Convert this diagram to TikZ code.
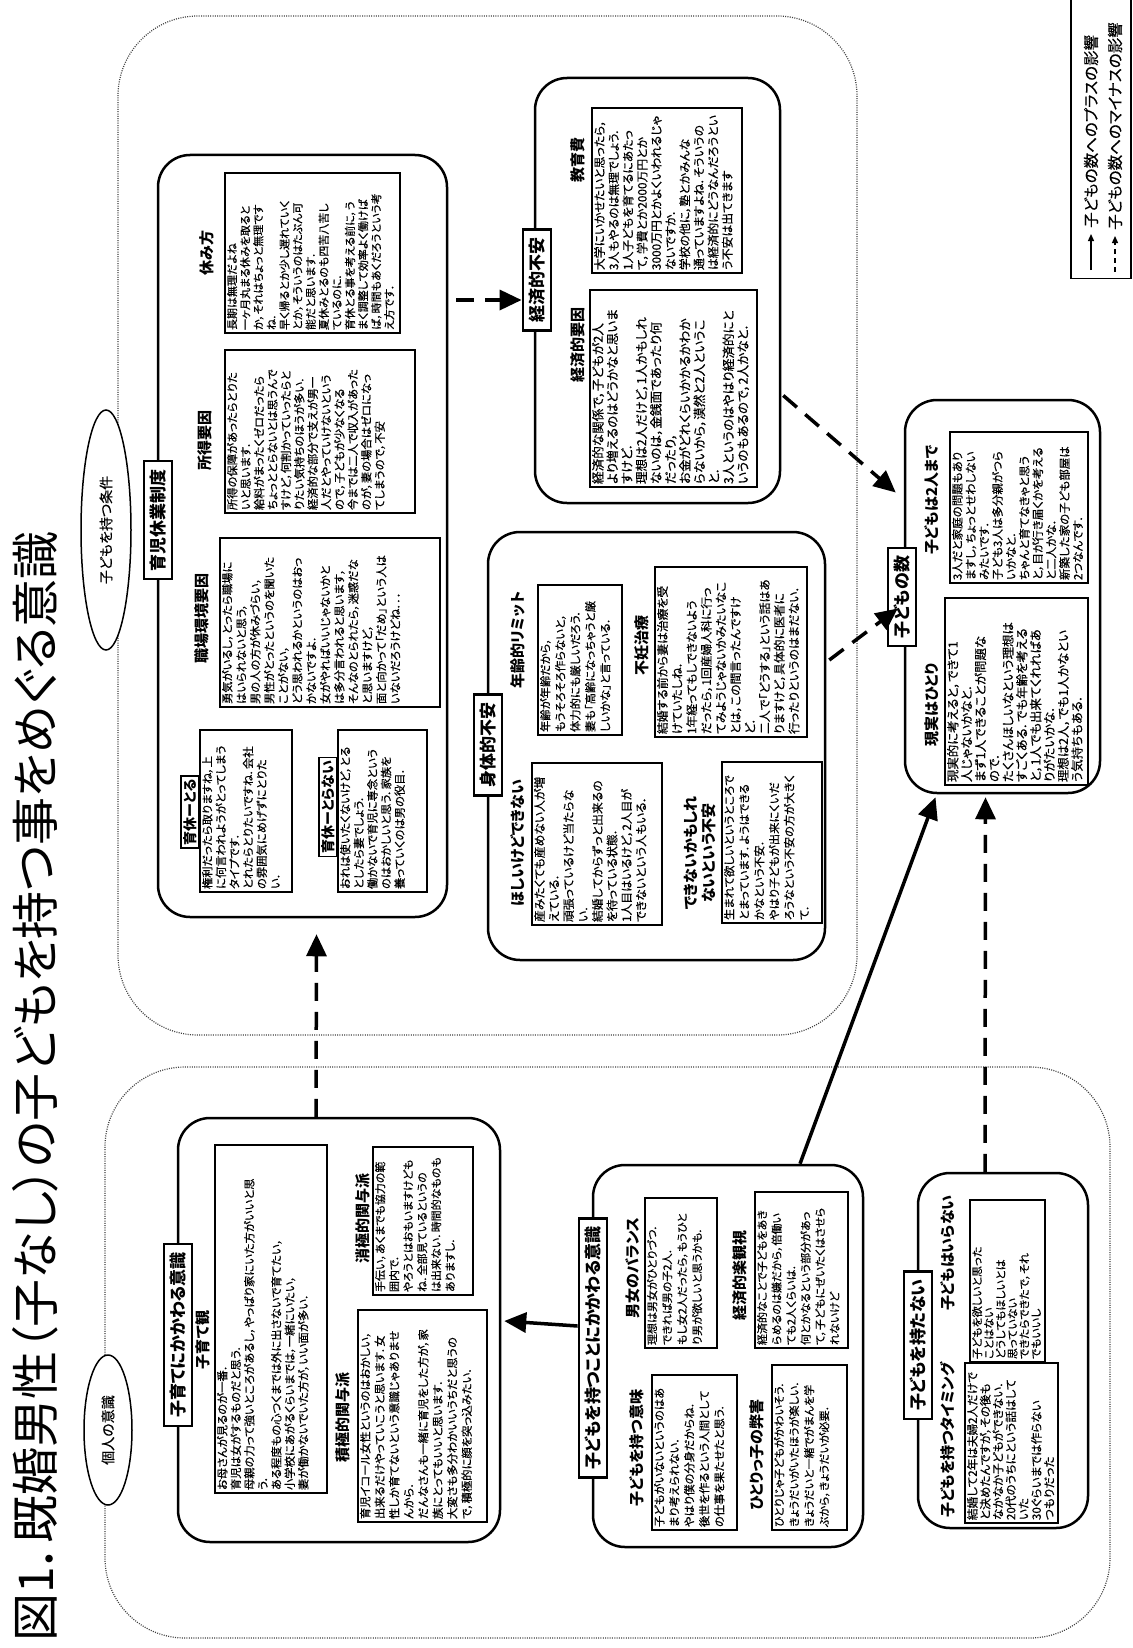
\documentclass[tikz,border=0pt]{standalone}
\usepackage{fontspec}
\setmainfont{Noto Sans CJK JP}[RawFeature=+palt, UprightFeatures={FakeBold=0.4}]
\newfontfamily\titlefont{Noto Sans CJK JP}[RawFeature=+palt]
\usetikzlibrary{arrows.meta,shapes.geometric,calc}
\newcommand\tbx[8]{%
  \pgfmathsetmacro\tbW{#5-#3-6}%
  \pgfmathsetmacro\tbH{#4-#2-4}%
  \node[tbox, rotate=90] (#1) at ({(#2+#4)/2},{(#3+#5)/2})
    {\parbox[c][\tbH pt][t]{\tbW pt}{\fontsize{#6}{#7}\selectfont\raggedright #8\par}};%
}
\newcommand\grp[6]{%
  \node[#6, minimum width={#4-#2}, minimum height={#5-#3}] (#1) at ({(#2+#4)/2},{(#3+#5)/2}) {};%
}
\begin{document}
\begin{tikzpicture}[x=1pt,y=-1pt,
  region/.style={draw=black!75, line width=1.2pt, dash pattern=on 1pt off 1.3pt, rounded corners=80pt, inner sep=0pt},
  grpbox/.style={draw, line width=2.5pt, rounded corners=32pt, inner sep=0pt},
  tbox/.style={draw, line width=1.4pt, fill=white, inner xsep=3pt, inner ysep=2pt},
  lbl/.style={draw, line width=2.5pt, fill=white, rotate=90, inner xsep=8pt, inner ysep=6pt, font=\fontsize{17}{19}\selectfont\bfseries},
  slbl/.style={draw, line width=1.8pt, fill=white, rotate=90, inner xsep=3pt, inner ysep=2.5pt, font=\fontsize{14}{16}\selectfont\bfseries},
  hd/.style={rotate=90, inner sep=0pt, align=center, font=\fontsize{15}{18}\selectfont\bfseries},
  oval/.style={ellipse, draw, line width=1.5pt, fill=white, rotate=90, inner sep=1pt, font=\fontsize{14}{16}\selectfont},
  posarr/.style={line width=3.5pt, -{Triangle[length=22pt,width=20pt]}},
  negarr/.style={posarr, dash pattern=on 18pt off 11pt},
]
\fill[white] (0,0) rectangle (1132,1648);
\useasboundingbox (0,0) rectangle (1132,1648);

% title
\node[rotate=90, anchor=west, inner sep=0pt, font=\titlefont\fontsize{48}{52}\selectfont] (title) at (35,1642) {図1．既婚男性（子なし）の子どもを持つ事をめぐる意識};

% legend
\node[draw, line width=1.3pt, minimum width=60pt, minimum height=279pt, inner sep=0pt] (legend) at (1101,139) {};
\coordinate (l1a) at (1091,270);
\coordinate (l1b) at (1091,234);
\coordinate (l2a) at (1115,272);
\coordinate (l2b) at (1115,236);
\draw[line width=1.3pt, -{Triangle[length=7pt,width=6pt]}] (l1a) -- (l1b);
\draw[line width=1.3pt, dash pattern=on 5pt off 4pt, -{Triangle[length=7pt,width=6pt]}] (l2a) -- (l2b);
\node[rotate=90, anchor=west, inner sep=0pt, font=\fontsize{15.5}{17}\selectfont] (lt1) at (1091,228) {子どもの数へのプラスの影響};
\node[rotate=90, anchor=west, inner sep=0pt, font=\fontsize{15.5}{17}\selectfont] (lt2) at (1115,230) {子どもの数へのマイナスの影響};

% regions
\grp{topreg}{118}{16}{857}{1035}{region}
\grp{botreg}{105}{1067}{1110}{1638}{region}
\node[oval, minimum width=240pt, minimum height=50pt] (ov1) at (106,530) {子どもを持つ条件};
\node[oval, minimum width=150pt, minimum height=48pt] (ov2) at (108,1430) {個人の意識};

% group boxes
\grp{yoji}{158}{155}{447}{917}{grpbox}
\grp{keizai}{535}{78}{780}{503}{grpbox}
\grp{shintai}{488}{532}{825}{960}{grpbox}
\grp{kazu}{905}{400}{1100}{793}{grpbox}
\grp{kosodate}{178}{1118}{500}{1542}{grpbox}
\grp{motsu}{593}{1165}{863}{1547}{grpbox}
\grp{motanai}{918}{1173}{1088}{1528}{grpbox}

% ---- 育児休業制度
\tbx{tyasumi}{225}{173}{400}{333}{11}{13.1}{長期は無理だよね\\一ヶ月丸まる休みを取ると\\か，それはちょっと無理です\\ね．\\早く帰るとか少し遅れていく\\とか，そういうのはたぶん可\\能だと思います．\\夏休みとるのも四苦八苦し\\ているのに．\\育休とる事を考える前に，う\\まく調整して効率よく働けば\\ば，時間もあくだろうという考\\え方です．}
\tbx{tshotoku}{225}{350}{415}{513}{11.3}{13.4}{所得の保障があったらとりた\\いと思います．\\給料がまったくゼロだったら\\ちょっととらないとは思うんで\\すけど，何割かっていったらと\\りたい気持ちのほうが多い．\\経済的な部分で支えが男一\\人だとやっていけないという\\ので，子どもが少なくなる\\今までは二人で収入があった\\のが，妻の場合はゼロになっ\\てしまうので，不安}
\tbx{tshokuba}{220}{538}{440}{707}{11.3}{14}{勇気がいるし，とったら職場に\\はいられないと思う，\\男の人の方が休みづらい，\\男性がとったというのを聞いた\\ことがない，\\どう思われるかというのはおっ\\かないですよ．\\女がやればいいじゃないかと\\は多分言われると思います，\\そんなのとられたら，迷惑だな\\と思いますけど，\\面と向かって「だめ」という人は\\いないだろうけどね．．．}
\tbx{ttoru}{200}{730}{292}{892}{11.3}{13.6}{権利だったら取りますね，上\\に何言われようがとってしまう\\タイプです．\\とれたらとりたいですね．会社\\の雰囲気にめげずにとりた\\い．}
\tbx{ttoranai}{338}{730}{427}{892}{11.3}{13.6}{おれは使いたくないけど，とる\\としたら妻でしょう．\\働かないで育児に専念という\\のはおかしいと思う．家族を\\養っていくのは男の役目．}
\node[hd] (hyasumi) at (207,253) {休み方};
\node[hd] (hshotoku) at (205,440) {所得要因};
\node[hd] (hshokuba) at (202,618) {職場環境要因};
\node[slbl, anchor=south] (ltoru) at (200,812) {育休ーとる};
\node[slbl, anchor=south] (ltoranai) at (338,807) {育休ーとらない};
\node[lbl] (lyoji) at (158,520) {育児休業制度};

% ---- 経済的不安
\tbx{tkeizaiyoin}{590}{290}{757}{487}{12.6}{14.5}{経済的な関係で，子どもが2人\\より増えるのはどうかなと思いま\\すけど．\\理想は2人だけど，1人かもしれ\\ないのは，金銭面であったり何\\だったり，\\お金がどれくらいかかるかわか\\らないから，漠然と2人というこ\\と．\\3人というのはやはり経済的にと\\いうのもあるので，2人かなと．}
\tbx{tkyoiku}{592}{108}{742}{273}{11.8}{14.2}{大学にいかせたいと思ったら，\\3人もやるのは無理でしょう．\\1人子どもを育てるにあたっ\\て，学費とか2000万円とか\\3000万円とかよくいわれるじゃ\\ないですか．\\学校の他に，塾とかみんな\\通っていますよね．そういうの\\は経済的にどうなんだろうとい\\う不安は出てきます}
\node[hd] (hkeizaiyoin) at (578,345) {経済的要因};
\node[hd] (hkyoiku) at (578,160) {教育費};
\node[lbl] (lkeizai) at (537,280) {経済的不安};

% ---- 身体的不安
\tbx{thoshii}{532}{763}{662}{925}{11.8}{14.5}{産みたくても産めない人が増\\えている．\\頑張っているけど当たらな\\い．\\結婚してからずっと出来るの\\を待っている状態．\\1人目はいるけど，2人目が\\できないという人もいる．}
\tbx{tnenrei}{538}{585}{622}{735}{11.3}{15}{年齢が年齢だから，\\もうそろそろ作らないと，\\体力的にも厳しいだろう．\\妻も「高齢になっちゃうと厳\\しいかな」と言っている．}
\tbx{tdekinai}{722}{762}{822}{923}{11.3}{15}{生まれて欲しいというところで\\とまっています．ようはできる\\かなという不安．\\やはり子どもが出来にくいだ\\ろうなという不安の方が大きく\\て．}
\tbx{tfunin}{655}{567}{807}{737}{11.8}{14.6}{結婚する前から妻は治療を受\\けていたしね．\\1年経ってもしできないよう\\だったら，1回産婦人科に行っ\\てみようじゃないかみたいなこ\\とは，この間言ったんですけ\\ど．\\二人で「どうする」という話はあ\\りますけど，具体的に医者に\\行ったりというのはまだない．}
\node[hd] (hhoshii) at (518,843) {ほしいけどできない};
\node[hd] (hnenrei) at (518,640) {年齢的リミット};
\node[hd] (hfunin) at (642,645) {不妊治療};
\node[hd] (hdekinai) at (700,853) {できないかもしれ\\ないという不安};
\node[lbl] (lshintai) at (488,745) {身体的不安};

% ---- 子どもの数
\tbx{tgenjitsu}{945}{598}{1088}{785}{12.4}{13.8}{現実的に考えると，できて1\\人じゃないかなと．\\まず1人できることが問題な\\ので．\\たくさんほしいなという理想は\\すごくある．でも年齢を考える\\と，1人でも出来てくれればあ\\りがたいかな．\\理想は2人，でも1人かなとい\\う気持ちもある．}
\tbx{tfutari}{950}{432}{1088}{583}{11.5}{13.4}{3人だと家庭の問題もあり\\ますし，ちょっとせわしない\\みたいです．\\子ども3人は多分親がつら\\いかなと．\\ちゃんと育てなきゃと思う\\と，目が行き届くかを考える\\と二人かな．\\新築した家の子ども部屋は\\2つなんです．}
\node[hd] (hfutari) at (932,500) {子どもは2人まで};
\node[hd] (hgenjitsu) at (932,705) {現実はひとり};
\node[lbl] (lkazu) at (902,597) {子どもの数};

% ---- 子育てにかかわる意識
\tbx{tkosodatekan}{215}{1145}{327}{1493}{11.3}{13.5}{お母さんが見るのが一番．\\育児は女がするものだと思う．\\母親の力って強いところがあるし，やっぱり家にいた方がいいと思\\う．\\ある程度もの心つくまでは外に出さないで育てたい，\\小学校にあがるくらいまでは，一緒にいたい，\\妻が働かないでいた方が，いい面が多い．}
\tbx{tsekkyoku}{358}{1310}{487}{1522}{11.3}{14.5}{育児イコール女性というのはおかしい，\\出来るだけやっていこうと思います．女\\性しか育てないという意識じゃありませ\\んから．\\だんなさんも一緒に育児をした方が，家\\族にとってもいいと思います．\\大変さも多分わかいいうちだと思うの\\で，積極的に顔を突っ込みたい．}
\tbx{tshokyoku}{373}{1147}{473}{1295}{11}{14}{手伝い，あくまでも協力の範\\囲内で．\\やろうとはおもいますけども\\ね．全部見ているというの\\は出来ない．時間的なものも\\ありますし．}
\node[hd] (hkosodatekan) at (203,1340) {子育て観};
\node[hd] (hsekkyoku) at (343,1417) {積極的関与派};
\node[hd] (hshokyoku) at (363,1218) {消極的関与派};
\node[lbl] (lkosodate) at (178,1335) {子育てにかかわる意識};

% ---- 子どもを持つことにかかわる意識
\tbx{timi}{652}{1375}{737}{1530}{11.3}{15}{子どもがいないというのはあ\\まり考えられない．\\やはり僕の分身だからね．\\後世を作るという人間として\\の仕事を果たせたと思う．}
\tbx{tdanjo}{645}{1198}{717}{1348}{11}{15}{理想は男女がひとりづつ．\\できれば男の子2人．\\もし女2人だったら，もうひと\\り男が欲しいと思うかも．}
\tbx{thitorikko}{772}{1365}{847}{1530}{11}{15}{ひとりじゃ子どもがかわいそう．\\きょうだいがいたほうが楽しい．\\きょうだいと一緒でがまんを学\\ぶから，きょうだいが必要．}
\tbx{trakkan}{755}{1192}{848}{1348}{11}{14.5}{経済的なことで子どもをあき\\らめるのは嫌だから，倍働い\\ても2人くらいは．\\何とかなるという部分があっ\\て，子どもにぜいたくはさせら\\れないけど}
\node[hd] (himi) at (637,1448) {子どもを持つ意味};
\node[hd] (hdanjo) at (633,1268) {男女のバランス};
\node[hd] (hhitorikko) at (757,1455) {ひとりっ子の弊害};
\node[hd] (hrakkan) at (740,1275) {経済的楽観視};
\node[lbl] (lmotsu) at (593,1348) {子どもを持つことにかかわる意識};

% ---- 子どもを持たない
\tbx{ttiming}{965}{1363}{1058}{1523}{11.6}{12.8}{結婚して2年は夫婦2人だけで\\と決めたんですが，その後も\\なかなか子どもができない．\\20代のうちにという話はして\\いた\\30ぐらいまでは作らない\\つもりだった}
\tbx{tiranai}{970}{1200}{1045}{1362}{11}{11.8}{子どもを欲しいと思った\\ことはない\\どうしてもほしいとは\\思っていない\\できたらできたで，それ\\でもいいし}
\node[hd] (htiming) at (948,1440) {子どもを持つタイミング};
\node[hd] (hiranai) at (948,1253) {子どもはいらない};
\node[lbl] (lmotanai) at (918,1345) {子どもを持たない};

% ---- connectors
\draw[negarr] ($(kosodate.north)+(-23,0)$) -- ($(yoji.south)+(14,16)$);
\draw[negarr] ($(yoji.east)+(8,-236)$) -- ($(lkeizai.north)+(0,20)$);
\draw[negarr] ($(keizai.east)+(2,105)$) -- ($(kazu.west)+(-8,-104)$);
\draw[negarr] ($(shintai.east)+(3,-86)$) -- ($(kazu.west)+(-6,12)$);
\draw[posarr] ($(motsu.north)+(72,0)$) -- ($(kazu.south)+(-67,3)$);
\draw[negarr] ($(motanai.north)+(-18,0)$) -- ($(kazu.south)+(-17,3)$);
\draw[posarr] ($(lmotsu.north)+(0,-22)$) -- ($(kosodate.east)+(3,-9)$);
\end{tikzpicture}
\end{document}
